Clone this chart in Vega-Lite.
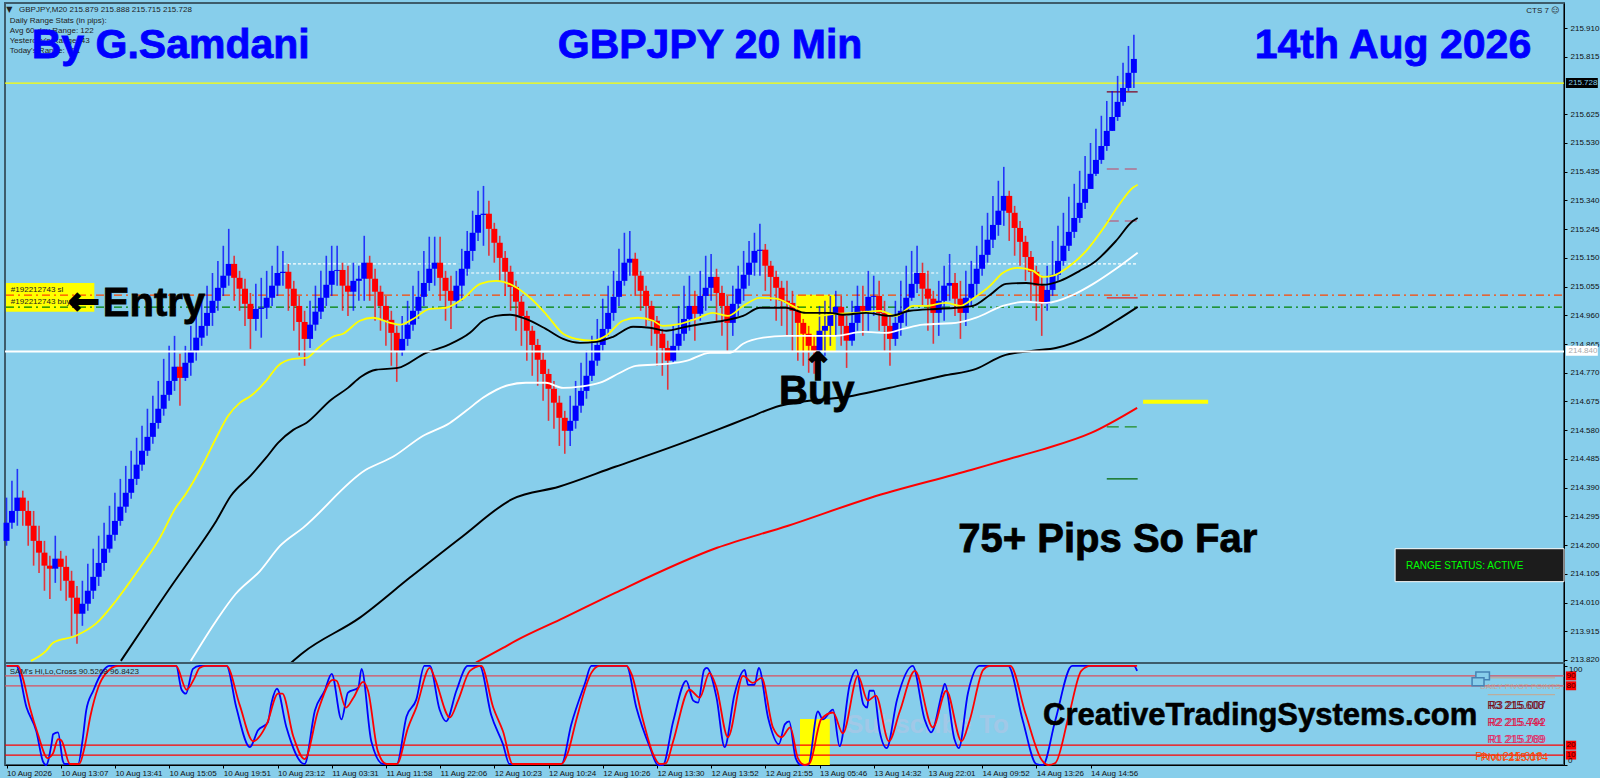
{
"$schema":"https://vega.github.io/schema/vega-lite/v6.json",
"background":"#87CEEB",
"padding":{"left":1,"top":2,"right":0,"bottom":0},
"spacing":0,
"bounds":"flush",
"config":{"view":{"stroke":"#3d5c6b","strokeWidth":2},"concat":{"spacing":0}},
"datasets":{
"candles":[
{"bar":0,"dir":"up","open":214.214,"close":214.274,"high":214.357,"low":214.198},
{"bar":1,"dir":"up","open":214.274,"close":214.313,"high":214.413,"low":214.254},
{"bar":2,"dir":"up","open":214.313,"close":214.357,"high":214.452,"low":214.264},
{"bar":3,"dir":"dn","open":214.357,"close":214.313,"high":214.380,"low":214.264},
{"bar":4,"dir":"dn","open":214.313,"close":214.264,"high":214.347,"low":214.198},
{"bar":5,"dir":"dn","open":214.264,"close":214.214,"high":214.313,"low":214.132},
{"bar":6,"dir":"dn","open":214.214,"close":214.175,"high":214.264,"low":214.108},
{"bar":7,"dir":"dn","open":214.175,"close":214.132,"high":214.214,"low":214.049},
{"bar":8,"dir":"dn","open":214.132,"close":214.122,"high":214.165,"low":214.022},
{"bar":9,"dir":"up","open":214.122,"close":214.155,"high":214.231,"low":214.075},
{"bar":10,"dir":"dn","open":214.155,"close":214.128,"high":214.181,"low":214.049},
{"bar":11,"dir":"dn","open":214.128,"close":214.082,"high":214.165,"low":214.016},
{"bar":12,"dir":"dn","open":214.082,"close":214.026,"high":214.115,"low":213.900},
{"bar":13,"dir":"dn","open":214.026,"close":213.973,"high":214.065,"low":213.874},
{"bar":14,"dir":"up","open":213.973,"close":214.006,"high":214.082,"low":213.933},
{"bar":15,"dir":"up","open":214.006,"close":214.049,"high":214.138,"low":213.983},
{"bar":16,"dir":"up","open":214.049,"close":214.095,"high":214.188,"low":214.022},
{"bar":17,"dir":"up","open":214.095,"close":214.141,"high":214.231,"low":214.065},
{"bar":18,"dir":"up","open":214.141,"close":214.188,"high":214.274,"low":214.115},
{"bar":19,"dir":"up","open":214.188,"close":214.234,"high":214.330,"low":214.175},
{"bar":20,"dir":"up","open":214.234,"close":214.280,"high":214.373,"low":214.214},
{"bar":21,"dir":"up","open":214.280,"close":214.327,"high":214.419,"low":214.264},
{"bar":22,"dir":"up","open":214.327,"close":214.373,"high":214.462,"low":214.307},
{"bar":23,"dir":"up","open":214.373,"close":214.419,"high":214.512,"low":214.353},
{"bar":24,"dir":"up","open":214.419,"close":214.466,"high":214.555,"low":214.399},
{"bar":25,"dir":"up","open":214.466,"close":214.512,"high":214.595,"low":214.446},
{"bar":26,"dir":"up","open":214.512,"close":214.558,"high":214.651,"low":214.495},
{"bar":27,"dir":"up","open":214.558,"close":214.604,"high":214.694,"low":214.535},
{"bar":28,"dir":"up","open":214.604,"close":214.651,"high":214.743,"low":214.585},
{"bar":29,"dir":"up","open":214.651,"close":214.697,"high":214.816,"low":214.628},
{"bar":30,"dir":"up","open":214.697,"close":214.743,"high":214.859,"low":214.677},
{"bar":31,"dir":"up","open":214.743,"close":214.790,"high":214.892,"low":214.710},
{"bar":32,"dir":"dn","open":214.790,"close":214.753,"high":214.833,"low":214.661},
{"bar":33,"dir":"up","open":214.753,"close":214.803,"high":214.859,"low":214.743},
{"bar":34,"dir":"up","open":214.803,"close":214.843,"high":214.925,"low":214.760},
{"bar":35,"dir":"up","open":214.843,"close":214.886,"high":214.958,"low":214.810},
{"bar":36,"dir":"up","open":214.886,"close":214.925,"high":215.008,"low":214.859},
{"bar":37,"dir":"up","open":214.925,"close":214.968,"high":215.058,"low":214.892},
{"bar":38,"dir":"up","open":214.968,"close":215.008,"high":215.100,"low":214.925},
{"bar":39,"dir":"up","open":215.008,"close":215.051,"high":215.140,"low":214.975},
{"bar":40,"dir":"up","open":215.051,"close":215.091,"high":215.190,"low":215.024},
{"bar":41,"dir":"up","open":215.091,"close":215.130,"high":215.246,"low":215.058},
{"bar":42,"dir":"dn","open":215.130,"close":215.084,"high":215.157,"low":215.008},
{"bar":43,"dir":"dn","open":215.084,"close":215.048,"high":215.107,"low":214.975},
{"bar":44,"dir":"dn","open":215.048,"close":214.998,"high":215.081,"low":214.925},
{"bar":45,"dir":"dn","open":214.998,"close":214.948,"high":215.034,"low":214.849},
{"bar":46,"dir":"up","open":214.948,"close":214.981,"high":215.064,"low":214.909},
{"bar":47,"dir":"up","open":214.981,"close":214.985,"high":215.084,"low":214.886},
{"bar":48,"dir":"up","open":214.985,"close":215.018,"high":215.107,"low":214.948},
{"bar":49,"dir":"up","open":215.018,"close":215.058,"high":215.124,"low":214.991},
{"bar":50,"dir":"up","open":215.058,"close":215.100,"high":215.190,"low":215.024},
{"bar":51,"dir":"up","open":215.100,"close":215.104,"high":215.173,"low":215.058},
{"bar":52,"dir":"dn","open":215.104,"close":215.048,"high":215.130,"low":214.975},
{"bar":53,"dir":"dn","open":215.048,"close":214.991,"high":215.074,"low":214.909},
{"bar":54,"dir":"dn","open":214.991,"close":214.938,"high":215.024,"low":214.826},
{"bar":55,"dir":"dn","open":214.938,"close":214.882,"high":214.975,"low":214.793},
{"bar":56,"dir":"up","open":214.882,"close":214.929,"high":215.008,"low":214.852},
{"bar":57,"dir":"up","open":214.929,"close":214.972,"high":215.058,"low":214.909},
{"bar":58,"dir":"up","open":214.972,"close":215.018,"high":215.107,"low":214.948},
{"bar":59,"dir":"up","open":215.018,"close":215.061,"high":215.157,"low":214.991},
{"bar":60,"dir":"up","open":215.061,"close":215.107,"high":215.190,"low":215.024},
{"bar":61,"dir":"up","open":215.107,"close":215.110,"high":215.190,"low":215.058},
{"bar":62,"dir":"dn","open":215.110,"close":215.058,"high":215.134,"low":214.975},
{"bar":63,"dir":"dn","open":215.058,"close":215.038,"high":215.124,"low":214.958},
{"bar":64,"dir":"up","open":215.038,"close":215.074,"high":215.134,"low":214.975},
{"bar":65,"dir":"up","open":215.074,"close":215.081,"high":215.124,"low":215.008},
{"bar":66,"dir":"up","open":215.081,"close":215.134,"high":215.223,"low":215.008},
{"bar":67,"dir":"dn","open":215.134,"close":215.081,"high":215.157,"low":215.008},
{"bar":68,"dir":"dn","open":215.081,"close":215.038,"high":215.114,"low":214.942},
{"bar":69,"dir":"dn","open":215.038,"close":214.991,"high":215.058,"low":214.909},
{"bar":70,"dir":"dn","open":214.991,"close":214.945,"high":215.024,"low":214.859},
{"bar":71,"dir":"dn","open":214.945,"close":214.902,"high":214.975,"low":214.793},
{"bar":72,"dir":"dn","open":214.902,"close":214.843,"high":214.925,"low":214.740},
{"bar":73,"dir":"up","open":214.843,"close":214.882,"high":214.958,"low":214.826},
{"bar":74,"dir":"up","open":214.882,"close":214.929,"high":215.008,"low":214.859},
{"bar":75,"dir":"up","open":214.929,"close":214.975,"high":215.058,"low":214.909},
{"bar":76,"dir":"up","open":214.975,"close":215.021,"high":215.107,"low":214.948},
{"bar":77,"dir":"up","open":215.021,"close":215.067,"high":215.173,"low":214.991},
{"bar":78,"dir":"up","open":215.067,"close":215.114,"high":215.220,"low":215.041},
{"bar":79,"dir":"up","open":215.114,"close":215.134,"high":215.220,"low":215.058},
{"bar":80,"dir":"dn","open":215.134,"close":215.084,"high":215.220,"low":215.008},
{"bar":81,"dir":"dn","open":215.084,"close":215.041,"high":215.107,"low":214.942},
{"bar":82,"dir":"dn","open":215.041,"close":215.008,"high":215.091,"low":214.915},
{"bar":83,"dir":"up","open":215.008,"close":215.058,"high":215.107,"low":214.985},
{"bar":84,"dir":"up","open":215.058,"close":215.114,"high":215.180,"low":215.008},
{"bar":85,"dir":"up","open":215.114,"close":215.173,"high":215.239,"low":215.091},
{"bar":86,"dir":"up","open":215.173,"close":215.233,"high":215.306,"low":215.140},
{"bar":87,"dir":"up","open":215.233,"close":215.292,"high":215.372,"low":215.206},
{"bar":88,"dir":"up","open":215.292,"close":215.296,"high":215.388,"low":215.190},
{"bar":89,"dir":"dn","open":215.296,"close":215.246,"high":215.339,"low":215.157},
{"bar":90,"dir":"dn","open":215.246,"close":215.200,"high":215.266,"low":215.134},
{"bar":91,"dir":"dn","open":215.200,"close":215.150,"high":215.223,"low":215.074},
{"bar":92,"dir":"dn","open":215.150,"close":215.104,"high":215.173,"low":215.024},
{"bar":93,"dir":"dn","open":215.104,"close":215.054,"high":215.124,"low":214.975},
{"bar":94,"dir":"dn","open":215.054,"close":215.005,"high":215.074,"low":214.909},
{"bar":95,"dir":"dn","open":215.005,"close":214.958,"high":215.024,"low":214.859},
{"bar":96,"dir":"dn","open":214.958,"close":214.909,"high":214.975,"low":214.810},
{"bar":97,"dir":"dn","open":214.909,"close":214.862,"high":214.925,"low":214.760},
{"bar":98,"dir":"dn","open":214.862,"close":214.813,"high":214.882,"low":214.727},
{"bar":99,"dir":"dn","open":214.813,"close":214.766,"high":214.836,"low":214.677},
{"bar":100,"dir":"dn","open":214.766,"close":214.717,"high":214.783,"low":214.611},
{"bar":101,"dir":"dn","open":214.717,"close":214.671,"high":214.743,"low":214.585},
{"bar":102,"dir":"dn","open":214.671,"close":214.621,"high":214.694,"low":214.528},
{"bar":103,"dir":"dn","open":214.621,"close":214.578,"high":214.644,"low":214.502},
{"bar":104,"dir":"up","open":214.578,"close":214.611,"high":214.694,"low":214.528},
{"bar":105,"dir":"up","open":214.611,"close":214.661,"high":214.743,"low":214.585},
{"bar":106,"dir":"up","open":214.661,"close":214.710,"high":214.803,"low":214.638},
{"bar":107,"dir":"up","open":214.710,"close":214.760,"high":214.843,"low":214.684},
{"bar":108,"dir":"up","open":214.760,"close":214.810,"high":214.892,"low":214.743},
{"bar":109,"dir":"up","open":214.810,"close":214.862,"high":214.948,"low":214.793},
{"bar":110,"dir":"up","open":214.862,"close":214.915,"high":215.015,"low":214.843},
{"bar":111,"dir":"up","open":214.915,"close":214.968,"high":215.058,"low":214.892},
{"bar":112,"dir":"up","open":214.968,"close":215.021,"high":215.107,"low":214.942},
{"bar":113,"dir":"up","open":215.021,"close":215.074,"high":215.180,"low":214.991},
{"bar":114,"dir":"up","open":215.074,"close":215.134,"high":215.233,"low":215.058},
{"bar":115,"dir":"up","open":215.134,"close":215.147,"high":215.239,"low":215.091},
{"bar":116,"dir":"dn","open":215.147,"close":215.091,"high":215.167,"low":215.024},
{"bar":117,"dir":"dn","open":215.091,"close":215.041,"high":215.107,"low":214.975},
{"bar":118,"dir":"dn","open":215.041,"close":214.991,"high":215.058,"low":214.925},
{"bar":119,"dir":"dn","open":214.991,"close":214.942,"high":215.008,"low":214.859},
{"bar":120,"dir":"dn","open":214.942,"close":214.899,"high":214.958,"low":214.793},
{"bar":121,"dir":"dn","open":214.899,"close":214.852,"high":214.915,"low":214.760},
{"bar":122,"dir":"dn","open":214.852,"close":214.810,"high":214.876,"low":214.714},
{"bar":123,"dir":"up","open":214.810,"close":214.859,"high":214.925,"low":214.803},
{"bar":124,"dir":"up","open":214.859,"close":214.899,"high":214.991,"low":214.843},
{"bar":125,"dir":"up","open":214.899,"close":214.948,"high":215.058,"low":214.876},
{"bar":126,"dir":"up","open":214.948,"close":214.991,"high":215.091,"low":214.909},
{"bar":127,"dir":"dn","open":214.991,"close":214.965,"high":215.041,"low":214.876},
{"bar":128,"dir":"up","open":214.965,"close":215.024,"high":215.107,"low":214.942},
{"bar":129,"dir":"up","open":215.024,"close":215.051,"high":215.157,"low":214.975},
{"bar":130,"dir":"up","open":215.051,"close":215.087,"high":215.163,"low":215.008},
{"bar":131,"dir":"dn","open":215.087,"close":215.034,"high":215.114,"low":214.942},
{"bar":132,"dir":"dn","open":215.034,"close":214.991,"high":215.058,"low":214.892},
{"bar":133,"dir":"dn","open":214.991,"close":214.935,"high":215.024,"low":214.843},
{"bar":134,"dir":"up","open":214.935,"close":214.998,"high":215.058,"low":214.892},
{"bar":135,"dir":"up","open":214.998,"close":215.048,"high":215.124,"low":214.958},
{"bar":136,"dir":"up","open":215.048,"close":215.094,"high":215.173,"low":215.008},
{"bar":137,"dir":"up","open":215.094,"close":215.134,"high":215.206,"low":215.058},
{"bar":138,"dir":"up","open":215.134,"close":215.173,"high":215.233,"low":215.091},
{"bar":139,"dir":"up","open":215.173,"close":215.177,"high":215.263,"low":215.091},
{"bar":140,"dir":"dn","open":215.177,"close":215.124,"high":215.196,"low":215.041},
{"bar":141,"dir":"dn","open":215.124,"close":215.087,"high":215.140,"low":215.008},
{"bar":142,"dir":"dn","open":215.087,"close":215.051,"high":215.107,"low":214.942},
{"bar":143,"dir":"dn","open":215.051,"close":215.008,"high":215.074,"low":214.925},
{"bar":144,"dir":"dn","open":215.008,"close":215.001,"high":215.074,"low":214.892},
{"bar":145,"dir":"dn","open":215.001,"close":214.975,"high":215.041,"low":214.843},
{"bar":146,"dir":"dn","open":214.975,"close":214.935,"high":214.991,"low":214.810},
{"bar":147,"dir":"dn","open":214.935,"close":214.899,"high":214.948,"low":214.793},
{"bar":148,"dir":"dn","open":214.899,"close":214.859,"high":214.925,"low":214.770},
{"bar":149,"dir":"dn","open":214.859,"close":214.843,"high":214.892,"low":214.767},
{"bar":150,"dir":"up","open":214.843,"close":214.909,"high":214.991,"low":214.776},
{"bar":151,"dir":"up","open":214.909,"close":214.925,"high":215.008,"low":214.826},
{"bar":152,"dir":"up","open":214.925,"close":214.968,"high":215.024,"low":214.859},
{"bar":153,"dir":"up","open":214.968,"close":214.988,"high":215.041,"low":214.892},
{"bar":154,"dir":"dn","open":214.988,"close":214.925,"high":215.024,"low":214.859},
{"bar":155,"dir":"dn","open":214.925,"close":214.876,"high":214.958,"low":214.786},
{"bar":156,"dir":"up","open":214.876,"close":214.935,"high":215.008,"low":214.859},
{"bar":157,"dir":"up","open":214.935,"close":214.991,"high":215.058,"low":214.909},
{"bar":158,"dir":"dn","open":214.991,"close":214.975,"high":215.058,"low":214.892},
{"bar":159,"dir":"up","open":214.975,"close":215.021,"high":215.107,"low":214.909},
{"bar":160,"dir":"up","open":215.021,"close":215.024,"high":215.091,"low":214.958},
{"bar":161,"dir":"dn","open":215.024,"close":214.968,"high":215.074,"low":214.909},
{"bar":162,"dir":"dn","open":214.968,"close":214.925,"high":215.008,"low":214.843},
{"bar":163,"dir":"dn","open":214.925,"close":214.882,"high":214.958,"low":214.793},
{"bar":164,"dir":"up","open":214.882,"close":214.935,"high":215.008,"low":214.859},
{"bar":165,"dir":"up","open":214.935,"close":214.975,"high":215.074,"low":214.892},
{"bar":166,"dir":"up","open":214.975,"close":215.018,"high":215.124,"low":214.925},
{"bar":167,"dir":"up","open":215.018,"close":215.064,"high":215.173,"low":215.008},
{"bar":168,"dir":"up","open":215.064,"close":215.100,"high":215.190,"low":215.034},
{"bar":169,"dir":"dn","open":215.100,"close":215.048,"high":215.134,"low":214.991},
{"bar":170,"dir":"dn","open":215.048,"close":215.015,"high":215.107,"low":214.909},
{"bar":171,"dir":"dn","open":215.015,"close":214.968,"high":215.041,"low":214.866},
{"bar":172,"dir":"up","open":214.968,"close":215.008,"high":215.074,"low":214.892},
{"bar":173,"dir":"up","open":215.008,"close":215.058,"high":215.124,"low":214.942},
{"bar":174,"dir":"up","open":215.058,"close":215.067,"high":215.163,"low":215.008},
{"bar":175,"dir":"dn","open":215.067,"close":215.015,"high":215.100,"low":214.958},
{"bar":176,"dir":"dn","open":215.015,"close":214.968,"high":215.074,"low":214.882},
{"bar":177,"dir":"up","open":214.968,"close":215.018,"high":215.107,"low":214.925},
{"bar":178,"dir":"up","open":215.018,"close":215.064,"high":215.140,"low":214.991},
{"bar":179,"dir":"up","open":215.064,"close":215.114,"high":215.190,"low":215.024},
{"bar":180,"dir":"up","open":215.114,"close":215.160,"high":215.256,"low":215.091},
{"bar":181,"dir":"up","open":215.160,"close":215.210,"high":215.299,"low":215.134},
{"bar":182,"dir":"up","open":215.210,"close":215.259,"high":215.355,"low":215.183},
{"bar":183,"dir":"up","open":215.259,"close":215.306,"high":215.405,"low":215.223},
{"bar":184,"dir":"up","open":215.306,"close":215.355,"high":215.451,"low":215.256},
{"bar":185,"dir":"dn","open":215.355,"close":215.299,"high":215.372,"low":215.206},
{"bar":186,"dir":"dn","open":215.299,"close":215.249,"high":215.322,"low":215.157},
{"bar":187,"dir":"dn","open":215.249,"close":215.203,"high":215.272,"low":215.124},
{"bar":188,"dir":"dn","open":215.203,"close":215.153,"high":215.223,"low":215.074},
{"bar":189,"dir":"dn","open":215.153,"close":215.104,"high":215.173,"low":215.008},
{"bar":190,"dir":"dn","open":215.104,"close":215.058,"high":215.124,"low":214.942},
{"bar":191,"dir":"dn","open":215.058,"close":214.998,"high":215.091,"low":214.892},
{"bar":192,"dir":"up","open":214.998,"close":215.044,"high":215.124,"low":214.975},
{"bar":193,"dir":"up","open":215.044,"close":215.094,"high":215.206,"low":215.024},
{"bar":194,"dir":"up","open":215.094,"close":215.140,"high":215.256,"low":215.074},
{"bar":195,"dir":"up","open":215.140,"close":215.190,"high":215.299,"low":215.124},
{"bar":196,"dir":"up","open":215.190,"close":215.236,"high":215.352,"low":215.173},
{"bar":197,"dir":"up","open":215.236,"close":215.282,"high":215.395,"low":215.216},
{"bar":198,"dir":"up","open":215.282,"close":215.332,"high":215.438,"low":215.266},
{"bar":199,"dir":"up","open":215.332,"close":215.378,"high":215.487,"low":215.312},
{"bar":200,"dir":"up","open":215.378,"close":215.428,"high":215.530,"low":215.385},
{"bar":201,"dir":"up","open":215.428,"close":215.474,"high":215.577,"low":215.421},
{"bar":202,"dir":"up","open":215.474,"close":215.520,"high":215.620,"low":215.461},
{"bar":203,"dir":"up","open":215.520,"close":215.570,"high":215.669,"low":215.504},
{"bar":204,"dir":"up","open":215.570,"close":215.616,"high":215.702,"low":215.570},
{"bar":205,"dir":"up","open":215.616,"close":215.666,"high":215.752,"low":215.603},
{"bar":206,"dir":"up","open":215.666,"close":215.712,"high":215.795,"low":215.653},
{"bar":207,"dir":"up","open":215.712,"close":215.762,"high":215.851,"low":215.702},
{"bar":208,"dir":"up","open":215.762,"close":215.808,"high":215.888,"low":215.712}
],
"averages":[
{"s":"yellow","bar":4.5,"price":213.817},{"s":"yellow","bar":7.3,"price":213.850},{"s":"yellow","bar":8.6,"price":213.877},{"s":"yellow","bar":12.8,"price":213.900},{"s":"yellow","bar":16.5,"price":213.940},{"s":"yellow","bar":20.2,"price":214.016},{"s":"yellow","bar":24.6,"price":214.125},{"s":"yellow","bar":28.3,"price":214.224},{"s":"yellow","bar":31.1,"price":214.320},{"s":"yellow","bar":33.1,"price":214.370},{"s":"yellow","bar":36.3,"price":214.469},{"s":"yellow","bar":38.7,"price":214.555},{"s":"yellow","bar":40.9,"price":214.628},{"s":"yellow","bar":43.1,"price":214.671},{"s":"yellow","bar":45.1,"price":214.694},{"s":"yellow","bar":47.9,"price":214.743},{"s":"yellow","bar":50.1,"price":214.793},{"s":"yellow","bar":52.9,"price":214.816},{"s":"yellow","bar":55.3,"price":214.819},{"s":"yellow","bar":57.5,"price":214.852},{"s":"yellow","bar":60.2,"price":214.889},{"s":"yellow","bar":62.1,"price":214.899},{"s":"yellow","bar":65.2,"price":214.942},{"s":"yellow","bar":67.6,"price":214.952},{"s":"yellow","bar":70.8,"price":214.935},{"s":"yellow","bar":72.6,"price":214.929},{"s":"yellow","bar":75.0,"price":214.948},{"s":"yellow","bar":78.1,"price":214.981},{"s":"yellow","bar":81.1,"price":214.985},{"s":"yellow","bar":84.2,"price":215.015},{"s":"yellow","bar":87.4,"price":215.064},{"s":"yellow","bar":90.3,"price":215.074},{"s":"yellow","bar":93.5,"price":215.058},{"s":"yellow","bar":96.6,"price":215.018},{"s":"yellow","bar":99.5,"price":214.965},{"s":"yellow","bar":102.7,"price":214.899},{"s":"yellow","bar":105.1,"price":214.882},{"s":"yellow","bar":108.2,"price":214.876},{"s":"yellow","bar":110.6,"price":214.892},{"s":"yellow","bar":113.7,"price":214.942},{"s":"yellow","bar":116.5,"price":214.952},{"s":"yellow","bar":119.3,"price":214.942},{"s":"yellow","bar":121.1,"price":214.925},{"s":"yellow","bar":124.3,"price":214.932},{"s":"yellow","bar":127.2,"price":214.948},{"s":"yellow","bar":130.3,"price":214.968},{"s":"yellow","bar":133.1,"price":214.958},{"s":"yellow","bar":135.9,"price":214.991},{"s":"yellow","bar":139.0,"price":215.018},{"s":"yellow","bar":142.0,"price":215.015},{"s":"yellow","bar":145.7,"price":214.985},{"s":"yellow","bar":149.3,"price":214.958},{"s":"yellow","bar":153.0,"price":214.965},{"s":"yellow","bar":156.7,"price":214.968},{"s":"yellow","bar":161.2,"price":214.975},{"s":"yellow","bar":164.1,"price":214.958},{"s":"yellow","bar":167.3,"price":214.991},{"s":"yellow","bar":169.6,"price":214.991},{"s":"yellow","bar":173.3,"price":215.001},{"s":"yellow","bar":176.0,"price":214.991},{"s":"yellow","bar":178.3,"price":215.015},{"s":"yellow","bar":181.5,"price":215.058},{"s":"yellow","bar":183.8,"price":215.100},{"s":"yellow","bar":186.6,"price":215.117},{"s":"yellow","bar":189.4,"price":215.107},{"s":"yellow","bar":191.2,"price":215.087},{"s":"yellow","bar":193.1,"price":215.091},{"s":"yellow","bar":196.2,"price":215.124},{"s":"yellow","bar":199.2,"price":215.173},{"s":"yellow","bar":202.3,"price":215.246},{"s":"yellow","bar":205.4,"price":215.329},{"s":"yellow","bar":207.8,"price":215.382},{"s":"yellow","bar":208.7,"price":215.392},
{"s":"white","bar":34.0,"price":213.817},{"s":"white","bar":38.7,"price":213.950},{"s":"white","bar":42.3,"price":214.039},{"s":"white","bar":46.8,"price":214.115},{"s":"white","bar":50.5,"price":214.198},{"s":"white","bar":54.7,"price":214.257},{"s":"white","bar":66.3,"price":214.449},{"s":"white","bar":71.3,"price":214.492},{"s":"white","bar":76.8,"price":214.561},{"s":"white","bar":81.8,"price":214.604},{"s":"white","bar":84.8,"price":214.644},{"s":"white","bar":87.9,"price":214.687},{"s":"white","bar":92.2,"price":214.727},{"s":"white","bar":95.8,"price":214.737},{"s":"white","bar":99.5,"price":214.737},{"s":"white","bar":102.7,"price":214.720},{"s":"white","bar":105.8,"price":214.724},{"s":"white","bar":109.5,"price":214.737},{"s":"white","bar":113.2,"price":214.770},{"s":"white","bar":116.1,"price":214.793},{"s":"white","bar":122.4,"price":214.800},{"s":"white","bar":125.4,"price":214.809},{"s":"white","bar":129.8,"price":214.836},{"s":"white","bar":133.5,"price":214.836},{"s":"white","bar":135.9,"price":214.866},{"s":"white","bar":139.6,"price":214.886},{"s":"white","bar":143.8,"price":214.892},{"s":"white","bar":153.0,"price":214.892},{"s":"white","bar":158.0,"price":214.905},{"s":"white","bar":162.3,"price":214.902},{"s":"white","bar":165.4,"price":214.915},{"s":"white","bar":169.1,"price":214.929},{"s":"white","bar":172.2,"price":214.932},{"s":"white","bar":175.2,"price":214.935},{"s":"white","bar":178.9,"price":214.952},{"s":"white","bar":183.8,"price":214.991},{"s":"white","bar":188.1,"price":215.005},{"s":"white","bar":191.8,"price":215.001},{"s":"white","bar":196.8,"price":215.028},{"s":"white","bar":200.5,"price":215.064},{"s":"white","bar":204.7,"price":215.114},{"s":"white","bar":208.7,"price":215.167},
{"s":"black","bar":21.1,"price":213.817},{"s":"black","bar":25.7,"price":213.940},{"s":"black","bar":30.7,"price":214.072},{"s":"black","bar":35.0,"price":214.181},{"s":"black","bar":38.7,"price":214.280},{"s":"black","bar":41.4,"price":214.363},{"s":"black","bar":45.0,"price":214.429},{"s":"black","bar":47.9,"price":214.489},{"s":"black","bar":50.1,"price":214.538},{"s":"black","bar":52.9,"price":214.581},{"s":"black","bar":55.3,"price":214.604},{"s":"black","bar":59.9,"price":214.681},{"s":"black","bar":63.0,"price":214.720},{"s":"black","bar":65.4,"price":214.757},{"s":"black","bar":68.2,"price":214.780},{"s":"black","bar":72.2,"price":214.786},{"s":"black","bar":77.4,"price":214.836},{"s":"black","bar":81.5,"price":214.862},{"s":"black","bar":85.5,"price":214.902},{"s":"black","bar":87.9,"price":214.942},{"s":"black","bar":90.3,"price":214.958},{"s":"black","bar":92.9,"price":214.962},{"s":"black","bar":95.8,"price":214.948},{"s":"black","bar":99.5,"price":214.915},{"s":"black","bar":102.7,"price":214.882},{"s":"black","bar":105.8,"price":214.869},{"s":"black","bar":108.8,"price":214.872},{"s":"black","bar":111.9,"price":214.889},{"s":"black","bar":115.6,"price":214.922},{"s":"black","bar":118.7,"price":214.919},{"s":"black","bar":121.7,"price":214.909},{"s":"black","bar":125.4,"price":214.922},{"s":"black","bar":128.5,"price":214.932},{"s":"black","bar":132.2,"price":214.942},{"s":"black","bar":135.9,"price":214.958},{"s":"black","bar":139.0,"price":214.985},{"s":"black","bar":143.8,"price":214.985},{"s":"black","bar":147.5,"price":214.968},{"s":"black","bar":151.9,"price":214.968},{"s":"black","bar":154.3,"price":214.962},{"s":"black","bar":158.6,"price":214.968},{"s":"black","bar":163.0,"price":214.958},{"s":"black","bar":166.7,"price":214.975},{"s":"black","bar":171.5,"price":214.981},{"s":"black","bar":175.2,"price":214.985},{"s":"black","bar":178.3,"price":214.991},{"s":"black","bar":181.5,"price":215.028},{"s":"black","bar":184.4,"price":215.064},{"s":"black","bar":188.1,"price":215.067},{"s":"black","bar":191.2,"price":215.061},{"s":"black","bar":194.4,"price":215.074},{"s":"black","bar":198.0,"price":215.107},{"s":"black","bar":201.0,"price":215.140},{"s":"black","bar":204.7,"price":215.206},{"s":"black","bar":207.8,"price":215.272},{"s":"black","bar":208.7,"price":215.282},
{"s":"slow black","bar":52.5,"price":213.811},{"s":"slow black","bar":54.7,"price":213.844},{"s":"slow black","bar":65.2,"price":213.960},{"s":"slow black","bar":74.6,"price":214.095},{"s":"slow black","bar":84.0,"price":214.227},{"s":"slow black","bar":93.4,"price":214.353},{"s":"slow black","bar":101.9,"price":214.393},{"s":"slow black","bar":112.3,"price":214.459},{"s":"slow black","bar":121.7,"price":214.518},{"s":"slow black","bar":131.1,"price":214.581},{"s":"slow black","bar":136.4,"price":214.618},{"s":"slow black","bar":142.7,"price":214.661},{"s":"slow black","bar":156.2,"price":214.694},{"s":"slow black","bar":165.4,"price":214.730},{"s":"slow black","bar":172.8,"price":214.760},{"s":"slow black","bar":178.9,"price":214.783},{"s":"slow black","bar":183.8,"price":214.826},{"s":"slow black","bar":189.4,"price":214.843},{"s":"slow black","bar":193.6,"price":214.852},{"s":"slow black","bar":199.9,"price":214.892},{"s":"slow black","bar":204.7,"price":214.942},{"s":"slow black","bar":208.7,"price":214.988},
{"s":"slow red","bar":86.6,"price":213.811},{"s":"slow red","bar":91.6,"price":213.860},{"s":"slow red","bar":94.0,"price":213.884},{"s":"slow red","bar":102.9,"price":213.960},{"s":"slow red","bar":112.3,"price":214.042},{"s":"slow red","bar":131.1,"price":214.191},{"s":"slow red","bar":144.2,"price":214.264},{"s":"slow red","bar":159.3,"price":214.356},{"s":"slow red","bar":178.1,"price":214.449},{"s":"slow red","bar":183.8,"price":214.479},{"s":"slow red","bar":190.9,"price":214.515},{"s":"slow red","bar":200.1,"price":214.571},{"s":"slow red","bar":208.6,"price":214.654}
],
"levels":[
{"level":"bid","bar":-0.28,"bar2":287.36,"price":215.728},
{"level":"sl","bar":-0.1,"bar2":287.36,"price":215.027},
{"level":"buy","bar":-0.1,"bar2":287.36,"price":214.987},
{"level":"dots","bar":51,"bar2":83,"price":215.13},
{"level":"dots","bar":84.8,"bar2":171.9,"price":215.1},
{"level":"dots","bar":173.7,"bar2":208.7,"price":215.13},
{"level":"r3","bar":203,"bar2":208.7,"price":215.699},
{"level":"r2","bar":203,"bar2":208.7,"price":215.444},
{"level":"r1","bar":203,"bar2":208.7,"price":215.272},
{"level":"pivot","bar":203,"bar2":208.7,"price":215.018},
{"level":"s1","bar":203,"bar2":208.7,"price":214.591},
{"level":"s2","bar":203,"bar2":208.7,"price":214.419}
],
"fastLine":[
{"bar":0,"osc":100},{"bar":1.8,"osc":100},{"bar":3.7,"osc":58},{"bar":5.5,"osc":34},{"bar":6.7,"osc":4},{"bar":7.3,"osc":0},{"bar":8.3,"osc":21},{"bar":8.6,"osc":31},{"bar":9.5,"osc":33},{"bar":10.4,"osc":4},{"bar":10.7,"osc":1},{"bar":13.2,"osc":1},{"bar":14.1,"osc":28},{"bar":14.7,"osc":55},{"bar":16,"osc":75},{"bar":17.8,"osc":95},{"bar":19,"osc":100},{"bar":31.3,"osc":100},{"bar":32.3,"osc":76},{"bar":33.1,"osc":72},{"bar":34.4,"osc":97},{"bar":35.6,"osc":100},{"bar":40.6,"osc":100},{"bar":42.4,"osc":58},{"bar":44.9,"osc":18},{"bar":46.4,"osc":35},{"bar":48.2,"osc":43},{"bar":48.9,"osc":63},{"bar":49.9,"osc":77},{"bar":51.6,"osc":39},{"bar":55,"osc":1},{"bar":56.9,"osc":55},{"bar":58.7,"osc":75},{"bar":60,"osc":92},{"bar":61.8,"osc":46},{"bar":63,"osc":73},{"bar":64.9,"osc":78},{"bar":65.5,"osc":97},{"bar":67.3,"osc":24},{"bar":69.5,"osc":1},{"bar":72,"osc":1},{"bar":73.8,"osc":49},{"bar":75.6,"osc":66},{"bar":77.1,"osc":100},{"bar":78.1,"osc":100},{"bar":79.9,"osc":56},{"bar":81.1,"osc":44},{"bar":83,"osc":75},{"bar":85.1,"osc":100},{"bar":87.3,"osc":100},{"bar":89.4,"osc":51},{"bar":91.6,"osc":21},{"bar":92.8,"osc":1},{"bar":102.4,"osc":1},{"bar":104.2,"osc":41},{"bar":106.7,"osc":82},{"bar":107.9,"osc":100},{"bar":114.4,"osc":100},{"bar":116.2,"osc":58},{"bar":118.7,"osc":18},{"bar":120.2,"osc":0},{"bar":121.1,"osc":0},{"bar":123,"osc":44},{"bar":125.4,"osc":85},{"bar":126.7,"osc":65},{"bar":127.6,"osc":63},{"bar":128.7,"osc":96},{"bar":129.2,"osc":98},{"bar":131,"osc":68},{"bar":132.5,"osc":18},{"bar":134.3,"osc":71},{"bar":136.2,"osc":96},{"bar":136.8,"osc":81},{"bar":138,"osc":81},{"bar":138.8,"osc":98},{"bar":140.5,"osc":48},{"bar":142.5,"osc":21},{"bar":143.6,"osc":41},{"bar":144.4,"osc":44},{"bar":145.6,"osc":7},{"bar":146.6,"osc":0},{"bar":147.9,"osc":0},{"bar":149.7,"osc":54},{"bar":150.6,"osc":46},{"bar":152.5,"osc":56},{"bar":153.7,"osc":19},{"bar":155.6,"osc":82},{"bar":156.8,"osc":96},{"bar":158.1,"osc":61},{"bar":158.8,"osc":58},{"bar":159.2,"osc":75},{"bar":160,"osc":75},{"bar":161.1,"osc":34},{"bar":162.4,"osc":17},{"bar":164.3,"osc":66},{"bar":167.2,"osc":100},{"bar":169.4,"osc":46},{"bar":170.6,"osc":33},{"bar":172.7,"osc":75},{"bar":173.1,"osc":82},{"bar":174.9,"osc":26},{"bar":175.7,"osc":17},{"bar":177.4,"osc":73},{"bar":179.5,"osc":100},{"bar":184.8,"osc":100},{"bar":187.5,"osc":45},{"bar":190,"osc":1},{"bar":191.2,"osc":0},{"bar":193.5,"osc":45},{"bar":196.6,"osc":100},{"bar":208,"osc":100},{"bar":208.6,"osc":95}
],
"slowLine":[
{"bar":0,"osc":100},{"bar":2.1,"osc":100},{"bar":3,"osc":88},{"bar":4.3,"osc":58},{"bar":5.8,"osc":31},{"bar":7.6,"osc":7},{"bar":8.6,"osc":12},{"bar":9.5,"osc":26},{"bar":10.1,"osc":25},{"bar":11.7,"osc":1},{"bar":13.4,"osc":1},{"bar":14.4,"osc":18},{"bar":15.5,"osc":50},{"bar":16.9,"osc":78},{"bar":18.4,"osc":93},{"bar":20.6,"osc":100},{"bar":31.3,"osc":100},{"bar":33.2,"osc":76},{"bar":34.7,"osc":88},{"bar":35.6,"osc":98},{"bar":36.8,"osc":100},{"bar":40.6,"osc":100},{"bar":43,"osc":61},{"bar":45.5,"osc":24},{"bar":48,"osc":41},{"bar":50.1,"osc":72},{"bar":50.9,"osc":72},{"bar":52.9,"osc":29},{"bar":55,"osc":6},{"bar":57.5,"osc":55},{"bar":60.2,"osc":86},{"bar":60.9,"osc":85},{"bar":62.6,"osc":58},{"bar":64,"osc":68},{"bar":65.8,"osc":84},{"bar":66.7,"osc":75},{"bar":68.5,"osc":14},{"bar":70.1,"osc":1},{"bar":72,"osc":1},{"bar":74.1,"osc":38},{"bar":75.6,"osc":58},{"bar":78.1,"osc":98},{"bar":79,"osc":88},{"bar":81.8,"osc":48},{"bar":83.3,"osc":65},{"bar":85.5,"osc":95},{"bar":87.6,"osc":100},{"bar":89.8,"osc":58},{"bar":91.6,"osc":34},{"bar":93.4,"osc":1},{"bar":102.4,"osc":1},{"bar":103.6,"osc":13},{"bar":105.1,"osc":45},{"bar":107.9,"osc":93},{"bar":109.4,"osc":100},{"bar":114.4,"osc":100},{"bar":115.3,"osc":92},{"bar":117.4,"osc":46},{"bar":119.3,"osc":11},{"bar":120.5,"osc":1},{"bar":121.7,"osc":2},{"bar":123,"osc":24},{"bar":126,"osc":76},{"bar":127.9,"osc":68},{"bar":129.7,"osc":93},{"bar":131,"osc":78},{"bar":133.1,"osc":28},{"bar":135.9,"osc":90},{"bar":137.7,"osc":83},{"bar":139.3,"osc":88},{"bar":141.4,"osc":38},{"bar":143,"osc":28},{"bar":144.6,"osc":38},{"bar":146,"osc":7},{"bar":147.3,"osc":0},{"bar":148.2,"osc":2},{"bar":150.3,"osc":46},{"bar":152.5,"osc":53},{"bar":154.3,"osc":32},{"bar":157.1,"osc":90},{"bar":158.9,"osc":65},{"bar":160.4,"osc":70},{"bar":162.8,"osc":24},{"bar":164.8,"osc":54},{"bar":167.6,"osc":95},{"bar":170.9,"osc":38},{"bar":173.4,"osc":75},{"bar":176.2,"osc":24},{"bar":177.7,"osc":45},{"bar":180.2,"osc":96},{"bar":181.4,"osc":100},{"bar":185.2,"osc":100},{"bar":188,"osc":52},{"bar":191,"osc":5},{"bar":192.2,"osc":0},{"bar":193.5,"osc":2},{"bar":196,"osc":50},{"bar":198.3,"osc":95},{"bar":200,"osc":100},{"bar":208.6,"osc":100}
]
},
"vconcat":[
{
"width":1559,"height":660,
"encoding":{
"x":{"field":"bar","type":"quantitative","scale":{"domain":[-0.28,287.36],"nice":false,"zero":false},"axis":null},
"y":{"field":"price","type":"quantitative","scale":{"domain":[213.81,215.993],"nice":false,"zero":false},
"axis":{"orient":"right","title":null,"grid":false,"values":[215.91,215.815,215.625,215.53,215.435,215.34,215.245,215.15,215.055,214.96,214.865,214.77,214.675,214.58,214.485,214.39,214.295,214.2,214.105,214.01,213.915,213.82],"format":".3f","labelFont":"Liberation Sans","labelFontSize":8,"labelColor":"#111","tickSize":3,"tickColor":"#000","domainColor":"#000","labelPadding":3,"labelOverlap":false,"labelBound":false}}
},
"resolve":{"scale":{"color":"independent","strokeWidth":"independent","strokeDash":"independent"}},
"layer":[
{"data":{"values":[{"bar":-0.1,"bar2":16.2,"price":215.067,"price2":214.972},{"bar":145.7,"bar2":153,"price":215.028,"price2":214.839}]},
"mark":{"type":"rect","color":"#ffff00"},
"encoding":{"x2":{"field":"bar2"},"y2":{"field":"price2"}}},
{"data":{"name":"levels"},
"mark":{"type":"rule"},
"encoding":{"x2":{"field":"bar2"},
"color":{"field":"level","type":"nominal","legend":null,"scale":{"domain":["bid","sl","buy","dots","r3","r2","r1","pivot","s1","s2"],"range":["#ffff00","#ff4500","#008000","#ffffff","#800020","#c84060","#c84060","#ee2020","#228b22","#006400"]}},
"strokeDash":{"field":"level","type":"nominal","legend":null,"scale":{"domain":["bid","sl","buy","dots","r3","r2","r1","pivot","s1","s2"],"range":[[1,0],[8,4,2,4],[8,4,2,4],[3,2],[1,0],[12,6],[12,6],[1,0],[12,6],[1,0]]}},
"strokeWidth":{"field":"level","type":"nominal","legend":null,"scale":{"domain":["bid","sl","buy","dots","r3","r2","r1","pivot","s1","s2"],"range":[1.2,1.2,1.2,1.2,1.5,1.5,1.2,1.5,1.2,1.5]}}}},
{"data":{"values":[{"bar":209.7,"bar2":221.7,"price":214.674}]},
"mark":{"type":"rule","color":"#ffff00","strokeWidth":4},
"encoding":{"x2":{"field":"bar2"}}},
{"data":{"name":"candles"},
"mark":{"type":"rule","strokeWidth":1.6,"opacity":0.75},
"encoding":{"y":{"field":"low"},"y2":{"field":"high"},
"color":{"field":"dir","type":"nominal","legend":null,"scale":{"domain":["up","dn"],"range":["#0000ff","#ff0000"]}}}},
{"data":{"name":"candles"},
"mark":{"type":"rule","strokeWidth":6},
"encoding":{"y":{"field":"open"},"y2":{"field":"close"},
"color":{"field":"dir","type":"nominal","legend":null,"scale":{"domain":["up","dn"],"range":["#0000ff","#ff0000"]}}}},
{"data":{"name":"averages"},
"mark":{"type":"line","interpolate":"monotone"},
"encoding":{
"color":{"field":"s","type":"nominal","legend":null,"scale":{"domain":["yellow","white","black","slow black","slow red"],"range":["#ffff00","#ffffff","#000000","#000000","#ff0000"]}},
"strokeWidth":{"field":"s","type":"nominal","legend":null,"scale":{"domain":["yellow","white","black","slow black","slow red"],"range":[1.8,2,1.8,3,3]}}}},
{"data":{"values":[{"bar":-0.28,"bar2":287.36,"price":214.84}]},
"mark":{"type":"rule","color":"#ffffff","strokeWidth":2},
"encoding":{"x2":{"field":"bar2"}}},
{"data":{"values":[{"bar":256.2,"bar2":287.36,"price":214.188,"price2":214.079}]},
"mark":{"type":"rect","color":"#1c1c1c","stroke":"#ffffff","strokeWidth":1},
"encoding":{"x2":{"field":"bar2"},"y2":{"field":"price2"}}},
{"data":{"values":[{"bar":287.7,"bar2":293.6,"price":215.745,"price2":215.712}]},
"mark":{"type":"rect","color":"#000000"},
"encoding":{"x2":{"field":"bar2"},"y2":{"field":"price2"}}},
{"data":{"values":[{"bar":287.7,"bar2":293.6,"price":214.859,"price2":214.826}]},
"mark":{"type":"rect","color":"#ffffff"},
"encoding":{"x2":{"field":"bar2"},"y2":{"field":"price2"}}},
{"data":{"values":[
{"bar":2.3,"price":215.97,"label":"GBPJPY,M20  215.879 215.888 215.715 215.728"},
{"bar":0.6,"price":215.934,"label":"Daily Range Stats (in pips):"},
{"bar":0.6,"price":215.901,"label":"Avg 60-day Range: 122"},
{"bar":0.6,"price":215.868,"label":"Yesterday's Range: 43"},
{"bar":0.6,"price":215.835,"label":"Today's Range: 101"},
{"bar":0.8,"price":215.044,"label":"#192212743 sl"},
{"bar":0.8,"price":215.005,"label":"#192212743 buy"},
{"bar":280.4,"price":215.967,"label":"CTS 7"}]},
"mark":{"type":"text","align":"left","baseline":"middle","font":"Liberation Sans","fontSize":8,"color":"#222222"},
"encoding":{"text":{"field":"label"}}},
{"data":{"values":[{"bar":0.5,"price":215.97,"label":"▼"},{"bar":285.8,"price":215.967,"label":"☺"}]},
"mark":{"type":"text","align":"center","baseline":"middle","font":"DejaVu Sans","fontSize":8,"color":"#222222"},
"encoding":{"text":{"field":"label"}}},
{"data":{"values":[
{"bar":30.3,"price":215.811,"label":"By G.Samdani"},
{"bar":129.8,"price":215.811,"label":"GBPJPY 20 Min"},
{"bar":255.8,"price":215.811,"label":"14th Aug 2026"}]},
"mark":{"type":"text","align":"center","baseline":"alphabetic","font":"Liberation Sans","fontWeight":"bold","fontSize":41,"color":"#0000ff","stroke":"#0000ff","strokeWidth":0.8},
"encoding":{"text":{"field":"label"}}},
{"data":{"values":[
{"bar":27.2,"price":214.958,"label":"Entry"},
{"bar":149.5,"price":214.667,"label":"Buy"},
{"bar":203.2,"price":214.178,"label":"75+ Pips So Far"}]},
"mark":{"type":"text","align":"center","baseline":"alphabetic","font":"Liberation Sans","fontWeight":"bold","fontSize":40,"color":"#000000","stroke":"#000000","strokeWidth":0.8},
"encoding":{"text":{"field":"label"}}},
{"data":{"values":[{"bar":14.3,"price":215.001,"label":"←"},{"bar":149.7,"price":214.783,"label":"↑"}]},
"mark":{"type":"text","align":"center","baseline":"middle","font":"DejaVu Sans","fontWeight":"bold","fontSize":38,"color":"#000000","stroke":"#000000","strokeWidth":1.6},
"encoding":{"text":{"field":"label"}}},
{"data":{"values":[{"bar":258.2,"price":214.131,"label":"RANGE STATUS: ACTIVE"}]},
"mark":{"type":"text","align":"left","baseline":"middle","font":"Liberation Sans","fontSize":10,"color":"#00ff00"},
"encoding":{"text":{"field":"label"}}},
{"data":{"values":[{"bar":288.2,"price":215.728,"label":"215.728"}]},
"mark":{"type":"text","align":"left","baseline":"middle","font":"Liberation Sans","fontSize":8,"color":"#87ceeb"},
"encoding":{"text":{"field":"label"}}},
{"data":{"values":[{"bar":288.2,"price":214.842,"label":"214.840"}]},
"mark":{"type":"text","align":"left","baseline":"middle","font":"Liberation Sans","fontSize":8,"color":"#aaaaaa"},
"encoding":{"text":{"field":"label"}}}
]
},
{
"width":1559,"height":102,
"encoding":{
"x":{"field":"bar","type":"quantitative","scale":{"domain":[-0.28,287.36],"nice":false,"zero":false},
"axis":{"orient":"bottom","title":null,"grid":false,"values":[0,10,20,30,40,50,60,70,80,90,100,110,120,130,140,150,160,170,180,190,200],
"labelExpr":"['10 Aug 2026','10 Aug 13:07','10 Aug 13:41','10 Aug 15:05','10 Aug 19:51','10 Aug 23:12','11 Aug 03:31','11 Aug 11:58','11 Aug 22:06','12 Aug 10:23','12 Aug 10:24','12 Aug 10:26','12 Aug 13:30','12 Aug 13:52','12 Aug 21:55','13 Aug 05:46','13 Aug 14:32','13 Aug 22:01','14 Aug 09:52','14 Aug 13:26','14 Aug 14:56'][datum.value/10]",
"labelAlign":"left","labelBaseline":"top","labelFlush":false,"labelOverlap":false,"labelBound":false,"labelFont":"Liberation Sans","labelFontSize":8,"labelColor":"#111","tickSize":3,"tickColor":"#000","domainColor":"#000","labelPadding":1}},
"y":{"field":"osc","type":"quantitative","scale":{"domain":[0,103],"nice":false,"zero":false},
"axis":{"orient":"right","title":null,"grid":false,"values":[100,0],"labels":false,"tickSize":3,"tickColor":"#000","domainColor":"#000"}}
},
"resolve":{"scale":{"color":"independent"}},
"layer":[
{"data":{"values":[{"bar":146.4,"bar2":151.9,"osc":46.5,"osc2":0}]},
"mark":{"type":"rect","color":"#ffff00"},
"encoding":{"x2":{"field":"bar2"},"y2":{"field":"osc2"}}},
{"data":{"values":[{"bar":-0.28,"bar2":287.36,"osc":90},{"bar":-0.28,"bar2":287.36,"osc":80}]},
"mark":{"type":"rule","color":"#d85060","strokeWidth":1.2},
"encoding":{"x2":{"field":"bar2"}}},
{"data":{"values":[{"bar":-0.28,"bar2":287.36,"osc":20},{"bar":-0.28,"bar2":287.36,"osc":10}]},
"mark":{"type":"rule","color":"#ff0000","strokeWidth":1.2},
"encoding":{"x2":{"field":"bar2"}}},
{"data":{"values":[{"bar":154.9,"osc":32,"label":"Subscribe To"}]},
"mark":{"type":"text","align":"left","baseline":"alphabetic","font":"Liberation Sans","fontWeight":"bold","fontSize":26,"color":"#b8c4e4","opacity":0.55},
"encoding":{"text":{"field":"label"}}},
{"data":{"name":"fastLine"},"mark":{"type":"line","color":"#0000ff","strokeWidth":1.8,"interpolate":"monotone"},"encoding":{}},
{"data":{"name":"slowLine"},"mark":{"type":"line","color":"#ff0000","strokeWidth":1.8,"interpolate":"monotone"},"encoding":{}},
{"data":{"values":[{"bar":231.3,"osc":40,"label":"CreativeTradingSystems.com"}]},
"mark":{"type":"text","align":"center","baseline":"alphabetic","font":"Liberation Sans","fontWeight":"bold","fontSize":31,"color":"#000000","stroke":"#000000","strokeWidth":0.6},
"encoding":{"text":{"field":"label"}}},
{"data":{"values":[{"bar":273.3,"bar2":285.7,"osc":88},{"bar":273.3,"bar2":285.7,"osc":71}]},
"mark":{"type":"rule","color":"#c9a58a","strokeWidth":1},
"encoding":{"x2":{"field":"bar2"}}},
{"data":{"values":[{"bar":271.9,"osc":79,"label":"DAILY PIVOT POINTS"}]},
"mark":{"type":"text","align":"left","baseline":"middle","font":"Liberation Sans","fontSize":8,"color":"#c0a898"},
"encoding":{"text":{"field":"label"}}},
{"data":{"values":[{"bar":271.1,"bar2":273.6,"osc":94,"osc2":86},{"bar":270.4,"bar2":272.6,"osc":88,"osc2":80}]},
"mark":{"type":"rect","fill":"#87ceeb","stroke":"#4682b4","strokeWidth":1.5},
"encoding":{"x2":{"field":"bar2"},"y2":{"field":"osc2"}}},
{"data":{"values":[
{"bar":273.2,"osc":60,"label":"R3  215.608","level":"R3"},
{"bar":273.5,"osc":60,"label":"R3  215.007","level":"R3"},
{"bar":273.2,"osc":42,"label":"R2  215.444","level":"R2"},
{"bar":273.5,"osc":42,"label":"R2  215.792","level":"R2"},
{"bar":273.2,"osc":25,"label":"R1  215.269","level":"R1"},
{"bar":273.5,"osc":25,"label":"R1  215.089","level":"R1"},
{"bar":271,"osc":8,"label":"Pivot  215.018","level":"Pivot"},
{"bar":272,"osc":7,"label":"Pivot  215.074","level":"Pivot"}]},
"mark":{"type":"text","align":"left","baseline":"middle","font":"Liberation Sans","fontSize":11},
"encoding":{"text":{"field":"label"},
"color":{"field":"level","type":"nominal","legend":null,"scale":{"domain":["R3","R2","R1","Pivot"],"range":["#7a1020","#dc2050","#e0306a","#ff4500"]}}}},
{"data":{"values":[{"bar":287.7,"bar2":289.6,"osc":94.5,"osc2":85.5},{"bar":287.7,"bar2":289.6,"osc":84.5,"osc2":75.5},{"bar":287.7,"bar2":289.6,"osc":24.5,"osc2":15.5},{"bar":287.7,"bar2":289.6,"osc":14.5,"osc2":5.5}]},
"mark":{"type":"rect","color":"#ff0000"},
"encoding":{"x2":{"field":"bar2"},"y2":{"field":"osc2"}}},
{"data":{"values":[{"bar":288.65,"osc":90,"label":"90"},{"bar":288.65,"osc":80,"label":"80"},{"bar":288.65,"osc":20,"label":"20"},{"bar":288.65,"osc":10,"label":"10"}]},
"mark":{"type":"text","align":"center","baseline":"middle","font":"Liberation Sans","fontSize":8,"color":"#400000"},
"encoding":{"text":{"field":"label"}}},
{"data":{"values":[{"bar":288.3,"osc":96,"label":"100"},{"bar":288.1,"osc":4,"label":"0"}]},
"mark":{"type":"text","align":"left","baseline":"middle","font":"Liberation Sans","fontSize":8,"color":"#111111"},
"encoding":{"text":{"field":"label"}}},
{"data":{"values":[{"bar":0.6,"osc":94,"label":"SAM's Hi,Lo,Cross 90.5268 96.8423"}]},
"mark":{"type":"text","align":"left","baseline":"middle","font":"Liberation Sans","fontSize":8,"color":"#222222"},
"encoding":{"text":{"field":"label"}}}
]
}
]
}
